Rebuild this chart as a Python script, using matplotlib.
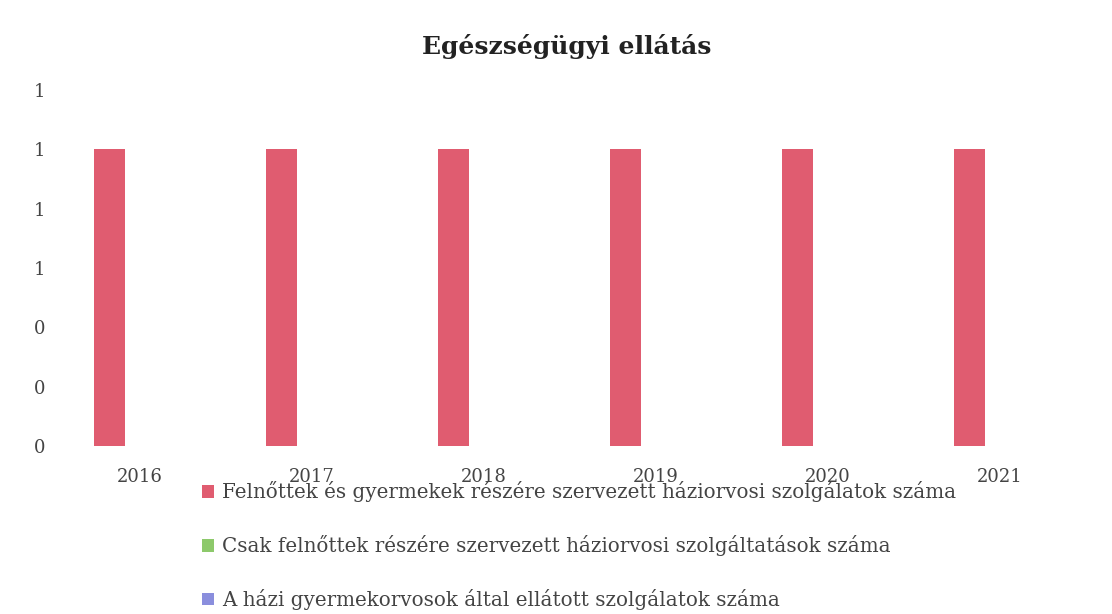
import matplotlib
matplotlib.use("Agg")
import matplotlib.pyplot as plt
import numpy as np
from matplotlib.ticker import FuncFormatter

years = ["2016", "2017", "2018", "2019", "2020", "2021"]
series_names = [
    "Felnőttek és gyermekek részére szervezett háziorvosi szolgálatok száma",
    "Csak felnőttek részére szervezett háziorvosi szolgáltatások száma",
    "A házi gyermekorvosok által ellátott szolgálatok száma",
]
felnott_gyermek = [1, 1, 1, 1, 1, 1]
csak_felnott = [0, 0, 0, 0, 0, 0]
gyermekorvos = [0, 0, 0, 0, 0, 0]
colors = ["#E05C70", "#8DC96B", "#8A8EDD"]

plt.rcParams['font.family'] = ['DejaVu Serif']
fig = plt.figure(figsize=(11.12, 6.14), dpi=100)
ax = fig.add_axes([0.0486, 0.2736, 0.928, 0.5798])

x = np.arange(len(years))
w = 0.18
for i, (vals, name, c) in enumerate(zip([felnott_gyermek, csak_felnott, gyermekorvos], series_names, colors)):
    ax.bar(x + (i - 1) * w, vals, width=w, color=c, label=name)

ax.set_xlim(-0.5, len(years) - 0.5)
ax.set_ylim(0, 1.2)
ax.set_yticks(np.arange(0, 1.21, 0.2))
ax.yaxis.set_major_formatter(FuncFormatter(lambda v, p: f"{v:.0f}"))
ax.set_xticks(x)
ax.set_xticklabels(years)
ax.tick_params(axis='both', length=0, labelsize=13, colors="#444444")
ax.tick_params(axis='y', pad=6)
ax.tick_params(axis='x', pad=16)
for s in ax.spines.values():
    s.set_visible(False)

fig.text(0.51, 0.925, "Egészségügyi ellátás", ha="center", va="center",
         fontsize=18, fontweight="bold", color="#222222")

leg = fig.legend(loc="upper left", bbox_to_anchor=(0.166, 0.245), frameon=False,
                 fontsize=14.3, labelspacing=1.65, handlelength=0.6, handleheight=0.6,
                 handletextpad=0.4, labelcolor="#444444")

fig.savefig("out.png", dpi=100, facecolor="white")
